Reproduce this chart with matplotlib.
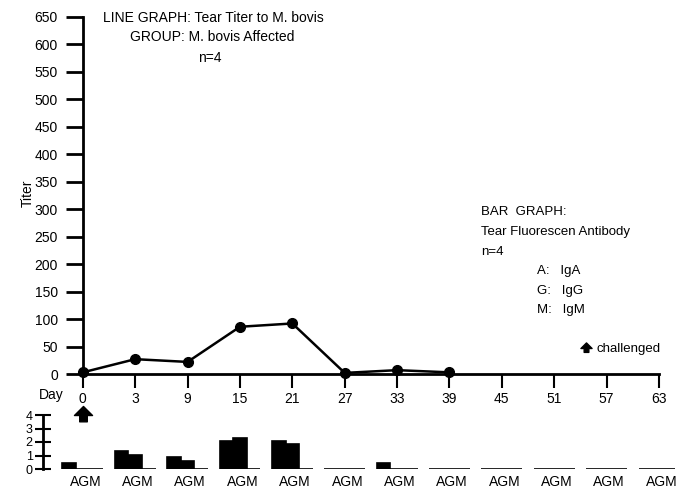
import matplotlib.pyplot as plt
from matplotlib.path import Path
import numpy as np

plt.rcParams['font.family'] = ['Liberation Sans', 'DejaVu Sans']

# dias de coleta (eixo categórico)
days = ["0", "3", "9", "15", "21", "27", "33", "39", "45", "51", "57", "63"]

# título médio da lágrima (só até o dia 39)
titer = [3, 27, 22, 86, 92, 2, 7, 3]

# anticorpo fluorescente: IgA, IgG, IgM por dia
iga = [0.45, 1.35, 0.9, 2.1, 2.1, 0, 0.45, 0, 0, 0, 0, 0]
igg = [0, 1.05, 0.6, 2.3, 1.85, 0, 0, 0, 0, 0, 0, 0]
igm = [0, 0, 0, 0, 0, 0, 0, 0, 0, 0, 0, 0]

W, H = 691, 488
fig = plt.figure(figsize=(W / 100, H / 100), dpi=100)

# seta para cima usada como marcador
seta = Path([(-1, 0), (0, 1), (1, 0), (0.42, 0), (0.42, -0.7), (-0.42, -0.7), (-0.42, 0), (-1, 0)],
            [Path.MOVETO] + [Path.LINETO] * 6 + [Path.CLOSEPOLY])

x = np.arange(len(days))
xlim = (-0.76, 11.3)
left = 43 / W
width = (674.7 - 43) / W

# gráfico de linha
ax = fig.add_axes([left, (H - 374) / H, width, (374 - 17) / H])
ax.plot(x[:len(titer)], titer, color="black", lw=1.8, marker="o", ms=7, clip_on=False, zorder=5)
ax.set_xlim(*xlim)
ax.set_ylim(0, 650)
ax.spines["top"].set_visible(False)
ax.spines["right"].set_visible(False)
ax.spines["left"].set_position(("data", 0))
ax.spines["left"].set_linewidth(2)
ax.spines["bottom"].set_linewidth(2)
ax.spines["bottom"].set_bounds(0, 11)
ax.set_yticks(np.arange(0, 651, 50))
ax.set_xticks(x)
ax.set_xticklabels(days)
ax.tick_params(axis="y", direction="out", length=12, width=2, pad=6, labelsize=10)
ax.tick_params(axis="x", direction="out", length=10, width=1.5, pad=3, labelsize=10)
ax.text(-0.024, 0.505, "Titer", transform=ax.transAxes, rotation=90,
        ha="center", va="center", fontsize=10)

xt = ax.get_xaxis_transform()
ax.text(-0.36, -0.058, "Day", transform=xt, ha="right", va="center", fontsize=10)

ax.text(2.5, 649, "LINE GRAPH: Tear Titer to M. bovis", ha="center", va="center", fontsize=10)
ax.text(2.47, 613, "GROUP: M. bovis Affected", ha="center", va="center", fontsize=10)
ax.text(2.43, 575, "n=4", ha="center", va="center", fontsize=10)

ax.text(7.6, 295, "BAR  GRAPH:", ha="left", va="center", fontsize=9.5)
ax.text(7.6, 258, "Tear Fluorescen Antibody", ha="left", va="center", fontsize=9.5)
ax.text(7.6, 222, "n=4", ha="left", va="center", fontsize=9.5)
ax.text(8.67, 187, "A:   IgA", ha="left", va="center", fontsize=9.5)
ax.text(8.67, 152, "G:   IgG", ha="left", va="center", fontsize=9.5)
ax.text(8.67, 117, "M:   IgM", ha="left", va="center", fontsize=9.5)
ax.plot([9.6], [48], marker=seta, color="black", ms=8, clip_on=False)
ax.text(9.8, 46, "challenged", ha="left", va="center", fontsize=9.5)

# gráfico de barras
bx = fig.add_axes([left, (H - 469) / H, width, 54 / H])
bx.patch.set_visible(False)
bw = 0.26
for vals, off in [(iga, -bw), (igg, 0), (igm, bw)]:
    bx.bar(x + off, vals, width=bw, color="black", edgecolor="black", lw=1.2)
bx.set_xlim(*xlim)
bx.set_ylim(0, 4)
for s in ["top", "right", "bottom"]:
    bx.spines[s].set_visible(False)
bx.spines["left"].set_linewidth(2)
bx.set_yticks([0, 1, 2, 3, 4])
bx.tick_params(axis="y", direction="inout", length=11, width=1.5, pad=2, labelsize=9)
bx.set_xticks(x + 0.05)
bx.set_xticklabels(["AGM"] * len(days))
bx.tick_params(axis="x", length=0, pad=4, labelsize=10)

# seta do desafio no dia 0
ax.plot([0], [-0.115], transform=xt, marker=seta, ms=13, color="black", clip_on=False, zorder=10)

fig.savefig("out.png", dpi=100)
